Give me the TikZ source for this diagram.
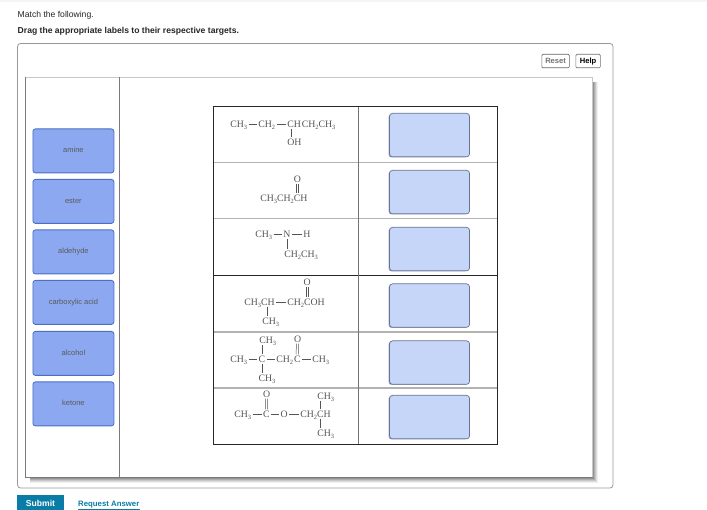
\documentclass[tikz,border=0pt]{standalone}
\usepackage{fontspec}
\setmainfont{Liberation Sans}
\newfontfamily\chemfont{Liberation Serif}
\definecolor{labfill}{HTML}{8CA8F0}
\definecolor{labedge}{HTML}{4A6FC4}
\definecolor{tgtfill}{HTML}{C5D6F8}
\definecolor{tgtedge}{HTML}{6A7192}
\definecolor{tgtshade}{HTML}{9CA9CF}
\definecolor{teal}{HTML}{0A7DA6}
\definecolor{chemgray}{HTML}{555555}
\newcommand{\sbs}[1]{\raisebox{-1.8pt}{\fontsize{6.4}{7}\selectfont #1}}
\tikzset{
  grp/.style={anchor=west,inner xsep=0.6pt,inner ysep=0pt,text height=7pt,text depth=0.4pt,
    font=\chemfont\fontsize{9.8}{12}\selectfont,text=chemgray},
  bond/.style={draw=chemgray,line width=0.5pt,shorten >=0.8pt,shorten <=0.8pt},
  lab/.style={draw=labedge,fill=labfill,line width=0.8pt,rounded corners=2.5pt,minimum width=81pt,minimum height=44pt,
    inner sep=0pt,anchor=north west,text height=5.4pt,text depth=1.6pt,font=\fontsize{7.5}{9}\selectfont,text=black!65},
  tgt/.style={draw=tgtedge,fill=tgtfill,line width=0.7pt,rounded corners=3pt,minimum width=80pt,minimum height=43.5pt,
    inner sep=0pt,anchor=north west},
  btn/.style={draw=black!55,fill=white,line width=0.7pt,rounded corners=1.2pt,inner sep=0pt,anchor=north west,minimum height=13.5pt,
    font=\bfseries\fontsize{7.6}{9}\selectfont},
}
\newcommand{\dbl}[2]{\draw[bond] ([xshift=-1.2pt]#1.south) -- ([xshift=-1.2pt]#2.north);
  \draw[bond] ([xshift=1.2pt]#1.south) -- ([xshift=1.2pt]#2.north);}
\begin{document}
\begin{tikzpicture}[x=1pt,y=-1pt]
\useasboundingbox (0,0) rectangle (707,510);
\fill[white] (0,0) rectangle (707,510);
\fill[black!4] (0,0) rectangle (707,2.5);
% header
\node[anchor=west,inner sep=0pt,font=\fontsize{8.6}{10}\selectfont,text=black!85] (q1) at (17.5,15) {Match the following.};
\node[anchor=west,inner sep=0pt,font=\bfseries\fontsize{8.6}{10}\selectfont,text=black!85] (q2) at (17.5,31.5) {Drag the appropriate labels to their respective targets.};
% outer panel
\draw[black!40,line width=0.8pt,rounded corners=3pt] (17.5,43.5) rectangle (613,488);
\node[btn,minimum width=27.5pt,text=black!55,draw=black!60] (reset) at (541.5,54) {Reset};
\node[btn,minimum width=24.5pt,text=black] (help) at (575.5,54) {Help};
% inner panel with shadow
\foreach \s/\o in {5.5/0.06,4.5/0.08,3.5/0.10,2.5/0.12,1.5/0.14}{
  \fill[black,opacity=\o] (30,82) rectangle (592.5+\s,477+\s);
}
\fill[white] (25.5,77) rectangle (592.5,477);
\draw[black!22,line width=0.8pt] (25.5,77) -- (592.5,77) -- (592.5,477);
\draw[black!52,line width=1pt] (25.5,77) -- (25.5,477) -- (592.5,477);
\draw[black!52,line width=0.8pt] (119.3,77) -- (119.3,477);
% labels
\node[lab] (l1) at (32.5,128.5) {amine};
\node[lab] (l2) at (32.5,179) {ester};
\node[lab] (l3) at (32.5,229.5) {aldehyde};
\node[lab] (l4) at (32.5,280) {carboxylic acid};
\node[lab] (l5) at (32.5,331) {alcohol};
\node[lab] (l6) at (32.5,381.5) {ketone};
% table
\draw[black!30,line width=1.1pt] (213,162.5) -- (497,162.5) (213,218.5) -- (497,218.5) (213,332) -- (497,332) (213,388) -- (497,388);
\draw[black!85,line width=0.9pt] (213,275) -- (497,275);
\draw[black!55,line width=0.8pt] (358.5,106) -- (358.5,444);
\draw[black!85,line width=0.9pt] (213,106) rectangle (497,444);
% targets
\foreach \n/\y in {1/113,2/170,3/227,4/283.5,5/340.5,6/395}{
  \fill[tgtshade,rounded corners=3pt] (388.5,\y+1) rectangle (468,\y+44.5);
  \node[tgt] (t\n) at (389.2,\y) {};
}
% row 1
\node[grp] (a1) at (229.5,124) {CH\sbs{3}};
\node[grp] (a2) at (257.5,124) {CH\sbs{2}};
\node[grp] (a3) at (286.5,124) {CH};
\node[grp] (a4) at (301,124) {CH\sbs{2}CH\sbs{3}};
\node[grp] (a5) at (286.5,142) {OH};
\draw[bond] (a1) -- (a2);
\draw[bond] (a2) -- (a3);
\draw[bond] (291,0 |- a3.south) -- (291,0 |- a5.north);
% row 2
\node[grp] (b1) at (293,179) {O};
\node[grp] (b2) at (259.5,198) {CH\sbs{3}CH\sbs{2}};
\node[grp] (b3) at (293,198) {CH};
\draw[bond] (295.8,0 |- b1.south) -- (295.8,0 |- b3.north);
\draw[bond] (298.2,0 |- b1.south) -- (298.2,0 |- b3.north);
% row 3
\node[grp] (c1) at (254.5,234) {CH\sbs{3}};
\node[grp] (c2) at (282.5,234) {N};
\node[grp] (c3) at (302.5,234) {H};
\node[grp] (c4) at (283.5,254) {CH\sbs{2}CH\sbs{3}};
\draw[bond] (c1) -- (c2);
\draw[bond] (c2) -- (c3);
\draw[bond] (c2.south) -- (c2.south |- c4.north);
% row 4
\node[grp] (d1) at (302.8,282) {O};
\node[grp] (d2) at (243.5,302) {CH\sbs{3}CH};
\node[grp] (d3) at (286.5,302) {CH\sbs{2}};
\node[grp] (d4) at (303.2,302) {COH};
\node[grp] (d5) at (261.5,321) {CH\sbs{3}};
\draw[bond] (d2) -- (d3);
\draw[bond] (305.8,0 |- d1.south) -- (305.8,0 |- d4.north);
\draw[bond] (308.2,0 |- d1.south) -- (308.2,0 |- d4.north);
\draw[bond] (267,0 |- d2.south) -- (267,0 |- d5.north);
% row 5
\node[grp] (e1) at (258.5,340) {CH\sbs{3}};
\node[grp] (e2) at (293.2,339) {O};
\node[grp] (e3) at (229.5,359) {CH\sbs{3}};
\node[grp] (e4) at (257.8,359) {C};
\node[grp] (e5) at (275.5,359) {CH\sbs{2}};
\node[grp] (e6) at (293.3,359) {C};
\node[grp] (e7) at (311.5,359) {CH\sbs{3}};
\node[grp] (e8) at (257.8,378) {CH\sbs{3}};
\draw[bond] (e3) -- (e4);
\draw[bond] (e4) -- (e5);
\draw[bond] (e6) -- (e7);
\draw[bond] (e4.north) -- (e4.north |- e1.south);
\draw[bond] (e4.south) -- (e4.south |- e8.north);
\dbl{e2}{e6}
% row 6
\node[grp] (f1) at (262.2,394) {O};
\node[grp] (f2) at (316.5,396) {CH\sbs{3}};
\node[grp] (f3) at (233.5,414) {CH\sbs{3}};
\node[grp] (f4) at (262.4,414) {C};
\node[grp] (f5) at (279.8,414) {O};
\node[grp] (f6) at (299.5,414) {CH\sbs{2}};
\node[grp] (f7) at (316.2,414) {CH};
\node[grp] (f8) at (316.5,433) {CH\sbs{3}};
\draw[bond] (f3) -- (f4);
\draw[bond] (f4) -- (f5);
\draw[bond] (f5) -- (f6);
\dbl{f1}{f4}
\draw[bond] (320.5,0 |- f2.south) -- (320.5,0 |- f7.north);
\draw[bond] (320.5,0 |- f7.south) -- (320.5,0 |- f8.north);
% footer
\fill[teal] (17,495) rectangle (64,510);
\node[inner sep=0pt,font=\bfseries\fontsize{8.6}{10}\selectfont,text=white] (sub) at (40.5,503.5) {Submit};
\node[anchor=west,inner sep=0pt,font=\bfseries\fontsize{7.8}{9}\selectfont,text=teal] (req) at (78,505) {Request Answer};
\draw[teal,line width=0.6pt] (req.south west) ++(0,0.2) -- ([yshift=-0.2pt]req.south east);
\end{tikzpicture}
\end{document}
